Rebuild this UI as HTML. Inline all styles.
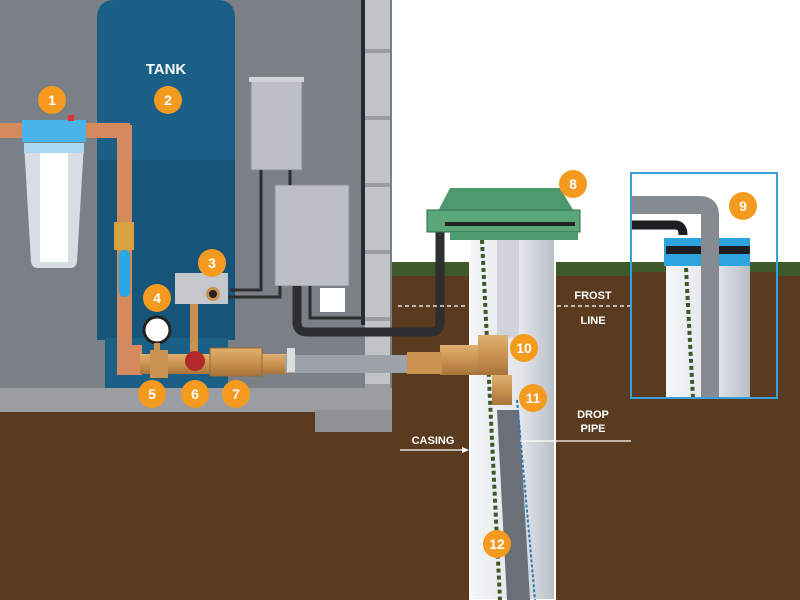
<!DOCTYPE html>
<html><head><meta charset="utf-8"><style>
html,body{margin:0;padding:0;background:#fff}
svg{display:block}
text{font-family:"Liberation Sans",sans-serif;font-weight:bold}
</style></head><body>
<svg width="800" height="600" viewBox="0 0 800 600" xmlns="http://www.w3.org/2000/svg">
<defs>
<linearGradient id="cas" x1="0" x2="1"><stop offset="0" stop-color="#f4f5f7"/><stop offset="0.6" stop-color="#e2e5ea"/><stop offset="1" stop-color="#b9bec6"/></linearGradient>
<linearGradient id="brass" x1="0" y1="0" x2="0" y2="1"><stop offset="0" stop-color="#e0b070"/><stop offset="0.5" stop-color="#c99250"/><stop offset="1" stop-color="#a8743a"/></linearGradient>
</defs>
<!-- sky -->
<rect width="800" height="600" fill="#fff"/>
<!-- ground -->
<rect x="390" y="262" width="410" height="338" fill="#5a3b20"/>
<rect x="390" y="262" width="410" height="14" fill="#3f5a2a"/>
<rect x="0" y="410" width="400" height="190" fill="#5a3b20"/>
<!-- wall -->
<rect x="0" y="0" width="392" height="390" fill="#7b8087"/>
<rect x="361" y="0" width="4" height="325" fill="#2a2b2d"/>
<rect x="365" y="0" width="25" height="430" fill="#c0c3c8"/>
<g fill="#9a9ea4"><rect x="365" y="49" width="25" height="4"/><rect x="365" y="116" width="25" height="4"/><rect x="365" y="183" width="25" height="4"/><rect x="365" y="250" width="25" height="4"/><rect x="365" y="317" width="25" height="4"/><rect x="365" y="384" width="25" height="4"/></g>
<!-- floor slab -->
<rect x="0" y="388" width="392" height="24" fill="#9a9ea3"/>
<rect x="315" y="410" width="77" height="22" fill="#8d9196"/>
<!-- tank -->
<path d="M97 340 V18 Q97 0 115 0 H217 Q235 0 235 18 V340 Z" fill="#1a5f86"/>
<rect x="97" y="160" width="138" height="180" fill="#165579"/>
<rect x="105" y="338" width="123" height="50" fill="#1a5f86"/>
<text x="166" y="74" fill="#fff" font-size="15" text-anchor="middle">TANK</text>
<!-- filter -->
<rect x="0" y="123" width="130" height="15" fill="#d48a5c"/>
<rect x="22" y="120" width="64" height="22" fill="#4ab3e8"/>
<rect x="68" y="115" width="6" height="6" fill="#d33"/>
<path d="M24 143 H84 L77 262 Q76 268 70 268 H38 Q32 268 31 262 Z" fill="#d8dde3"/>
<rect x="40" y="152" width="28" height="110" fill="#fff"/>
<rect x="24" y="143" width="60" height="10" fill="#a9d9f1"/>
<!-- copper vertical -->
<rect x="117" y="125" width="15" height="250" fill="#d48a5c"/>
<rect x="114" y="222" width="20" height="28" fill="#d8a040"/>
<rect x="119" y="250" width="11" height="47" rx="5" fill="#27a8e6"/>
<rect x="117" y="345" width="25" height="30" fill="#d48a5c"/>
<!-- control boxes -->
<rect x="251" y="77" width="51" height="93" fill="#bcc0c6" stroke="#8b9096"/>
<rect x="249" y="77" width="55" height="5" fill="#d0d3d7"/>
<rect x="275" y="185" width="74" height="101" fill="#bcc0c6" stroke="#8b9096"/>
<rect x="320" y="288" width="25" height="24" fill="#fff"/>
<path d="M261 170 V290 H230" stroke="#2d2e30" stroke-width="3" fill="none"/>
<path d="M290 170 V185 M280 286 V297 H215" stroke="#2d2e30" stroke-width="3" fill="none"/>
<path d="M310 286 V318 H362" stroke="#2d2e30" stroke-width="3" fill="none"/>
<path d="M297 286 V322 Q297 332 307 332 H430 Q440 332 440 322 V232" stroke="#2d2e30" stroke-width="9" fill="none"/>
<!-- pressure switch -->
<rect x="175" y="273" width="53" height="31" fill="#c4c7cc"/>
<circle cx="213" cy="294" r="7" fill="#c99250"/><circle cx="213" cy="294" r="4" fill="#222"/>
<rect x="190" y="304" width="8" height="50" fill="#c99250"/>
<!-- gauge -->
<circle cx="157" cy="330" r="13" fill="#fff" stroke="#222" stroke-width="3"/>
<rect x="154" y="343" width="6" height="10" fill="#c99250"/>
<!-- manifold -->
<rect x="140" y="354" width="150" height="20" fill="url(#brass)"/>
<rect x="150" y="350" width="18" height="28" fill="#c99250"/>
<rect x="210" y="348" width="52" height="28" fill="url(#brass)" stroke="#9a6a30"/>
<circle cx="195" cy="361" r="10" fill="#b02a2a"/>
<rect x="285" y="355" width="160" height="18" fill="#9da2a8"/>
<rect x="287" y="348" width="8" height="24" fill="#ddd"/>
<!-- well casing -->
<rect x="470" y="238" width="85" height="362" fill="url(#cas)" stroke="#fff" stroke-width="2"/>
<rect x="497" y="238" width="22" height="100" fill="#d0d4da"/>
<path d="M497 410 H519 L530 600 H507 Z" fill="#6b7078"/>
<path d="M482 240 L500 600" stroke="#3a5a2a" stroke-width="4" stroke-dasharray="4 3"/>
<path d="M517 400 L535 600" stroke="#2a7ab0" stroke-width="2" stroke-dasharray="3 2"/>
<!-- pitless adapter -->
<rect x="440" y="345" width="40" height="30" fill="url(#brass)"/>
<rect x="478" y="335" width="30" height="40" fill="url(#brass)"/>
<rect x="492" y="375" width="20" height="30" fill="url(#brass)"/>
<rect x="407" y="352" width="35" height="22" fill="#c99250"/>
<!-- well cap -->
<path d="M437 213 L450 188 H560 L575 213 Z" fill="#4d9a6e"/>
<rect x="427" y="210" width="153" height="22" fill="#5aa77a" stroke="#2f6a48"/>
<rect x="445" y="222" width="130" height="4" fill="#222"/>
<rect x="450" y="232" width="128" height="8" fill="#4d9a6e"/>
<!-- inset -->
<rect x="631" y="173" width="146" height="225" fill="#fff"/>
<rect x="631" y="262" width="146" height="136" fill="#5a3b20"/>
<rect x="631" y="262" width="146" height="10" fill="#3f5a2a"/>
<rect x="666" y="238" width="84" height="160" fill="url(#cas)"/>
<rect x="664" y="238" width="86" height="28" fill="#2ea4df"/>
<rect x="666" y="246" width="84" height="8" fill="#1d1e20"/>
<path d="M631 205 H700 Q710 205 710 215 V398" stroke="#868b92" stroke-width="18" fill="none"/>
<path d="M631 225 H675 Q683 225 683 235" stroke="#1d1e20" stroke-width="9" fill="none"/>
<path d="M686 268 L693 398" stroke="#3a5a2a" stroke-width="4" stroke-dasharray="4 3"/>
<rect x="631" y="173" width="146" height="225" fill="none" stroke="#3aa0d8" stroke-width="2"/>
<!-- labels -->
<g stroke="#fff" stroke-width="1.3" stroke-dasharray="4 3"><line x1="398" y1="306" x2="468" y2="306"/><line x1="557" y1="306" x2="630" y2="306"/></g>
<text x="593" y="299" fill="#fff" font-size="11" font-weight="normal" text-anchor="middle">FROST</text>
<text x="593" y="324" fill="#fff" font-size="11" font-weight="normal" text-anchor="middle">LINE</text>
<text x="593" y="418" fill="#fff" font-size="11" font-weight="normal" text-anchor="middle">DROP</text>
<text x="593" y="432" fill="#fff" font-size="11" font-weight="normal" text-anchor="middle">PIPE</text>
<line x1="520" y1="441" x2="631" y2="441" stroke="#fff" stroke-width="1.3"/>
<text x="433" y="444" fill="#fff" font-size="11" font-weight="normal" text-anchor="middle">CASING</text>
<line x1="400" y1="450" x2="464" y2="450" stroke="#fff" stroke-width="1.3"/>
<path d="M469 450 L462 447 L462 453 Z" fill="#fff"/>
<!-- badges -->
<g font-size="14" fill="#fff" text-anchor="middle">
<g><circle cx="52" cy="100" r="14" fill="#f39a1f"/><text x="52" y="105">1</text></g>
<g><circle cx="168" cy="100" r="14" fill="#f39a1f"/><text x="168" y="105">2</text></g>
<g><circle cx="212" cy="263" r="14" fill="#f39a1f"/><text x="212" y="268">3</text></g>
<g><circle cx="157" cy="298" r="14" fill="#f39a1f"/><text x="157" y="303">4</text></g>
<g><circle cx="152" cy="394" r="14" fill="#f39a1f"/><text x="152" y="399">5</text></g>
<g><circle cx="195" cy="394" r="14" fill="#f39a1f"/><text x="195" y="399">6</text></g>
<g><circle cx="236" cy="394" r="14" fill="#f39a1f"/><text x="236" y="399">7</text></g>
<g><circle cx="573" cy="184" r="14" fill="#f39a1f"/><text x="573" y="189">8</text></g>
<g><circle cx="743" cy="206" r="14" fill="#f39a1f"/><text x="743" y="211">9</text></g>
<g><circle cx="524" cy="348" r="14" fill="#f39a1f"/><text x="524" y="353">10</text></g>
<g><circle cx="533" cy="398" r="14" fill="#f39a1f"/><text x="533" y="403">11</text></g>
<g><circle cx="497" cy="544" r="14" fill="#f39a1f"/><text x="497" y="549">12</text></g>
</g>
</svg>
</body></html>
